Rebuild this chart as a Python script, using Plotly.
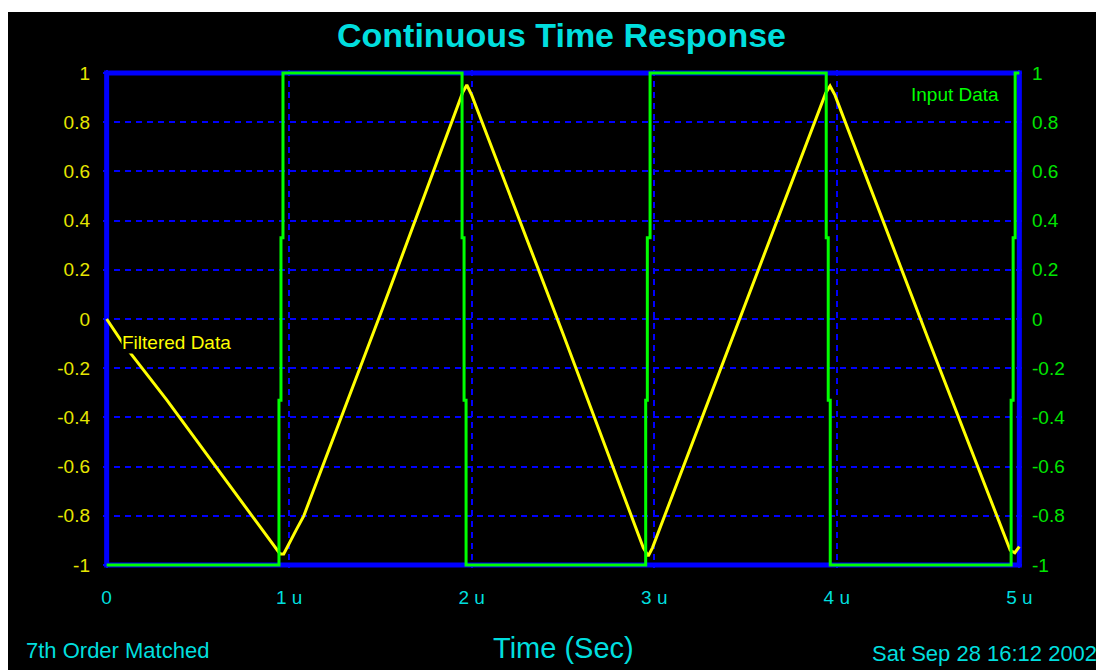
import plotly.graph_objects as go

# ---- data (time in microseconds) ----
filtered_t = [0, 0.09, 0.33, 0.95, 0.97, 1.0, 1.04, 1.08, 1.5, 1.95, 1.973, 2.0, 2.5, 2.94, 2.967, 2.99,
              3.5, 3.94, 3.963, 3.99, 4.5, 4.95, 4.975, 5.0]
filtered_v = [0, -0.10, -0.33, -0.955, -0.955, -0.91, -0.855, -0.80, 0.02, 0.92, 0.951, 0.91, -0.06, -0.93,
              -0.963, -0.93, 0.06, 0.92, 0.947, 0.91, -0.08, -0.94, -0.95, -0.925]

input_t = [0, 0.944, 0.944, 0.955, 0.955, 0.966, 0.966,
           1.947, 1.947, 1.958, 1.958, 1.969, 1.969,
           2.953, 2.953, 2.962, 2.962, 2.977, 2.977,
           3.942, 3.942, 3.953, 3.953, 3.964, 3.964,
           4.955, 4.955, 4.966, 4.966, 4.977, 4.977, 5.0]
input_v = [-1, -1, -0.33, -0.33, 0.33, 0.33, 1,
           1, 0.33, 0.33, -0.33, -0.33, -1,
           -1, -0.33, -0.33, 0.33, 0.33, 1,
           1, 0.33, 0.33, -0.33, -0.33, -1,
           -1, -0.33, -0.33, 0.33, 0.33, 1, 1]

x_tickvals = [0, 1, 2, 3, 4, 5]
x_ticktext = ["0", "1 u", "2 u", "3 u", "4 u", "5 u"]
y_tickvals = [-1, -0.8, -0.6, -0.4, -0.2, 0, 0.2, 0.4, 0.6, 0.8, 1]
y_ticktext = ["-1", "-0.8", "-0.6", "-0.4", "-0.2", "0", "0.2", "0.4", "0.6", "0.8", "1"]

FONT = "Liberation Sans, Arial, sans-serif"
YELLOW = "#ffff00"
GREEN = "#00ff00"
CYAN = "#00dede"
BLUE = "#0000ff"

fig = go.Figure()
fig.add_trace(go.Scatter(x=filtered_t, y=filtered_v, mode="lines",
                         line=dict(color=YELLOW, width=3), yaxis="y", showlegend=False))
fig.add_trace(go.Scatter(x=input_t, y=input_v, mode="lines",
                         line=dict(color=GREEN, width=3), yaxis="y2", showlegend=False))

# black panel behind everything (white strip on top/left)
fig.add_shape(type="rect", xref="paper", yref="paper", x0=-0.1033, x1=1.12, y0=-0.25, y1=1.1165,
              fillcolor="black", line=dict(width=0), layer="below")
# blue frame
fig.add_shape(type="rect", xref="x", yref="y", x0=0, x1=5, y0=-1, y1=1,
              line=dict(color=BLUE, width=5), layer="below")

grid = dict(showgrid=True, gridcolor=BLUE, gridwidth=1.5, griddash="6px,5px")

fig.update_layout(
    width=1096, height=662,
    margin=dict(l=95, r=81, t=62, b=102),
    paper_bgcolor="white", plot_bgcolor="black",
    font=dict(family=FONT),
    xaxis=dict(range=[-0.02, 5.02], tickvals=x_tickvals, ticktext=x_ticktext,
               tickfont=dict(color=CYAN, size=19, family=FONT), ticks="",
               ticklabelstandoff=16, zeroline=False, showline=False, automargin=False, **grid),
    yaxis=dict(range=[-1.012, 1.012], tickvals=y_tickvals, ticktext=y_ticktext,
               tickfont=dict(color="#e6e600", size=19, family=FONT), ticks="",
               ticklabelstandoff=12, zeroline=False, showline=False, automargin=False, **grid),
    yaxis2=dict(range=[-1.012, 1.012], tickvals=y_tickvals, ticktext=y_ticktext,
                overlaying="y", side="right", showgrid=False, zeroline=False,
                tickfont=dict(color="#00e600", size=19, family=FONT), ticks="",
                ticklabelstandoff=8, automargin=False),
    annotations=[
        dict(text="<b>Continuous Time Response</b>", xref="paper", yref="paper", x=0.4989, y=1.0703,
             xanchor="center", yanchor="middle", showarrow=False,
             font=dict(color=CYAN, size=34, family=FONT)),
        dict(text="Time (Sec)", xref="paper", yref="paper", x=0.5, y=-0.1606,
             xanchor="center", yanchor="middle", showarrow=False,
             font=dict(color=CYAN, size=29, family=FONT)),
        dict(text="7th Order Matched", xref="paper", yref="paper", x=-0.0859, y=-0.1647,
             xanchor="left", yanchor="middle", showarrow=False,
             font=dict(color=CYAN, size=22, family=FONT)),
        dict(text="Sat Sep 28 16:12 2002", xref="paper", yref="paper", x=1.0826, y=-0.1707,
             xanchor="right", yanchor="middle", showarrow=False,
             font=dict(color=CYAN, size=22, family=FONT)),
        dict(text="Filtered Data", xref="x", yref="y", x=0.08, y=-0.0935,
             xanchor="left", yanchor="middle", showarrow=False, bgcolor="black", borderpad=0,
             font=dict(color=YELLOW, size=19, family=FONT)),
        dict(text="Input Data", xref="x", yref="y", x=4.396, y=0.9106,
             xanchor="left", yanchor="middle", showarrow=False,
             font=dict(color=GREEN, size=19, family=FONT)),
    ],
)

fig.write_html("out.html")
